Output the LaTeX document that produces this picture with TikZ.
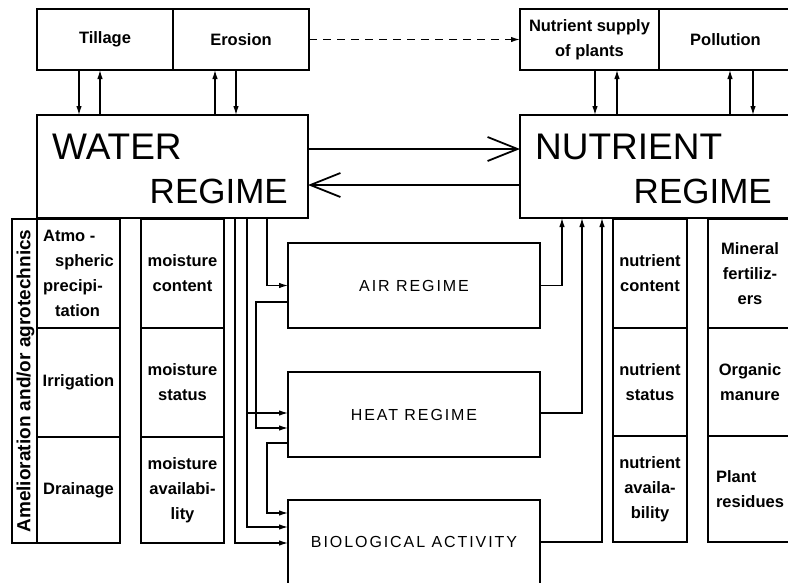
\documentclass[tikz,border=0pt]{standalone}
\usepackage{fontspec}
\setmainfont{Liberation Sans}
\newfontfamily\spacedfont[LetterSpace=12]{Liberation Sans}
\usetikzlibrary{arrows.meta,calc}
\newcommand\lblfont{\fontsize{16.5}{25}\selectfont\bfseries}
\newcommand\regfont{\fontsize{37}{40}\selectfont}
\newcommand\regbfont{\fontsize{35}{40}\selectfont}
\newcommand\midfont{\spacedfont\fontsize{16}{20}\selectfont}
\begin{document}
\begin{tikzpicture}[x=1pt,y=-1pt,
  box/.style={draw, line width=1.5pt, inner sep=0pt, outer sep=0pt, anchor=north west, align=center, font=\lblfont},
  mbox/.style={box, font=\midfont},
  bigtxt/.style={inner sep=0pt, font=\regfont},
  arr/.style={line width=1.2pt, -{Latex[length=9pt,width=5.5pt]}},
  bigarr/.style={line width=1.8pt, -{Straight Barb[length=30pt,width=24pt]}},
  dasharr/.style={line width=1.3pt, dash pattern=on 8pt off 6pt, -{Latex[length=9pt,width=5.5pt]}}]
\useasboundingbox (0,0) rectangle (788,582);
\clip (0,0) rectangle (788,582);
% top boxes
\node[box, minimum width=136pt, minimum height=61pt] (till) at (37,9) {Tillage};
\node[box, minimum width=136pt, minimum height=61pt] (eros) at (173,9) {Erosion};
\node[box, minimum width=139pt, minimum height=61pt] (nsup) at (520,9) {Nutrient supply\\of plants};
\node[box, minimum width=133pt, minimum height=61pt] (poll) at (659,9) {Pollution};
% regimes
\node[box, minimum width=271pt, minimum height=103pt] (water) at (37,115) {};
\node[box, minimum width=272pt, minimum height=103pt] (nutr) at (520,115) {};
\node[bigtxt, anchor=base west] (wt1) at (52,159) {WATER};
\node[bigtxt, font=\regbfont, anchor=base east] (wt2) at (288,203) {REGIME};
\node[bigtxt, anchor=base west] (nt1) at (535,159) {NUTRIENT};
\node[bigtxt, font=\regbfont, anchor=base east] (nt2) at (772,203) {REGIME};
% left label
\node[box, minimum width=25pt, minimum height=324pt] (amel) at (12,219) {};
\node[rotate=90, inner sep=0pt, font=\fontsize{19}{20}\selectfont\bfseries] (ameltxt) at ([xshift=1pt]amel.center) {Amelioration and/or agrotechnics};
% column 1
\node[box, align=left, minimum width=83pt, minimum height=109pt] (atmo) at (37,219) {Atmo -\\\hspace*{12pt}spheric\\precipi-\\\hspace*{12pt}tation};
\node[box, minimum width=83pt, minimum height=109pt] (irr) at (37,328) {Irrigation};
\node[box, minimum width=83pt, minimum height=106pt] (drain) at (37,437) {Drainage};
% column 2
\node[box, minimum width=83pt, minimum height=109pt] (mc) at (141,219) {moisture\\content};
\node[box, minimum width=83pt, minimum height=109pt] (ms) at (141,328) {moisture\\status};
\node[box, minimum width=83pt, minimum height=106pt] (ma) at (141,437) {moisture\\availabi-\\lity};
% middle
\node[mbox, minimum width=252pt, minimum height=85pt] (air) at (288,243) {AIR REGIME};
\node[mbox, minimum width=252pt, minimum height=85pt] (heat) at (288,372) {HEAT REGIME};
\node[mbox, minimum width=252pt, minimum height=84pt] (bio) at (288,500) {BIOLOGICAL ACTIVITY};
% column A
\node[box, minimum width=74pt, minimum height=109pt] (nc) at (613,219) {nutrient\\content};
\node[box, minimum width=74pt, minimum height=108pt] (ns) at (613,328) {nutrient\\status};
\node[box, minimum width=74pt, minimum height=106pt] (na) at (613,436) {nutrient\\availa-\\bility};
% column B
\node[box, minimum width=84pt, minimum height=109pt] (mf) at (708,219) {Mineral\\fertiliz-\\ers};
\node[box, minimum width=84pt, minimum height=108pt] (om) at (708,328) {Organic\\manure};
\node[box, align=left, minimum width=84pt, minimum height=106pt] (pr) at (708,436) {Plant\\residues};
% top connectors
\draw[arr] ([xshift=42pt]till.south west) -- ([xshift=42pt]water.north west);
\draw[arr] ([xshift=63pt]water.north west) -- ([xshift=63pt]till.south west);
\draw[arr] ([xshift=178pt]water.north west) -- ([xshift=42pt]eros.south west);
\draw[arr] ([xshift=63pt]eros.south west) -- ([xshift=199pt]water.north west);
\draw[arr] ([xshift=75pt]nsup.south west) -- ([xshift=75pt]nutr.north west);
\draw[arr] ([xshift=97pt]nutr.north west) -- ([xshift=97pt]nsup.south west);
\draw[arr] ([xshift=210pt]nutr.north west) -- ([xshift=71pt]poll.south west);
\draw[arr] ([xshift=94pt]poll.south west) -- ([xshift=233pt]nutr.north west);
\draw[dasharr] (eros.east) -- (nsup.west);
% regime arrows
\draw[bigarr] ([yshift=-34pt]water.north east) -- ([yshift=-34pt]nutr.north west);
\draw[bigarr] ([yshift=-70pt]nutr.north west) -- ([yshift=-70pt]water.north east);
% left connectors
\draw[arr] ([xshift=230pt]water.south west) |- (air.west);
\draw[arr] ([yshift=-59pt]air.north west) -- ++(-32pt,0) |- ([yshift=-56pt]heat.north west);
\draw[arr] ([xshift=210pt]water.south west) |- ([yshift=-41pt]heat.north west);
\draw[arr] ([xshift=210pt]water.south west) |- ([yshift=-27pt]bio.north west);
\draw[arr] ([xshift=198pt]water.south west) |- ([yshift=-43pt]bio.north west);
\draw[arr] ([yshift=-71pt]heat.north west) -- ++(-21pt,0) |- ([yshift=-13pt]bio.north west);
% right connectors
\draw[arr] (air.east) -| ([xshift=42pt]nutr.south west);
\draw[arr] ([yshift=-41pt]heat.north east) -| ([xshift=62pt]nutr.south west);
\draw[arr] ([yshift=-42pt]bio.north east) -| ([xshift=82pt]nutr.south west);
\end{tikzpicture}
\end{document}
